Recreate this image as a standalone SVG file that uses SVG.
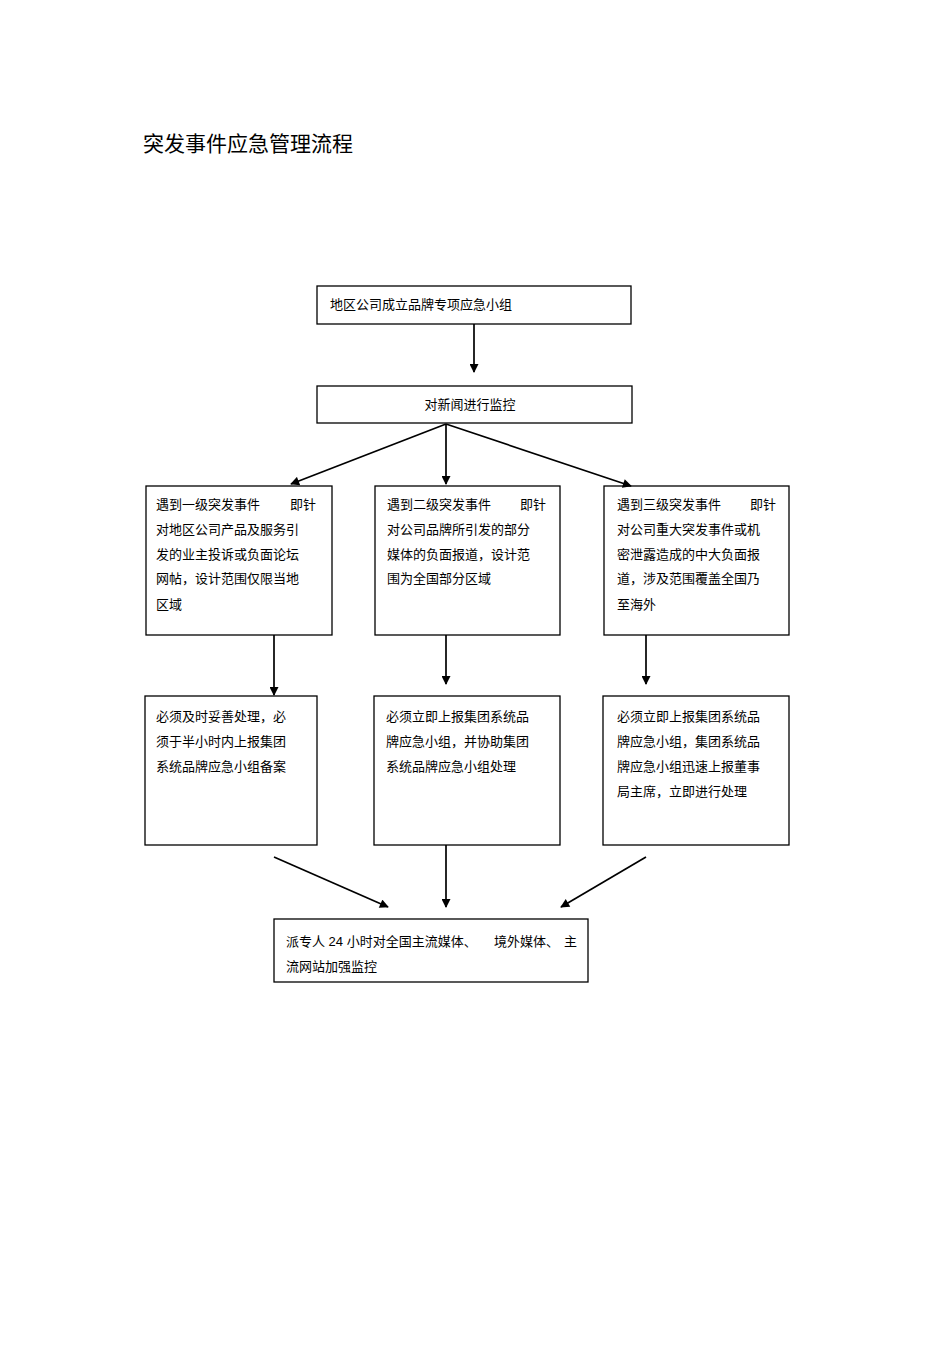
<svg xmlns="http://www.w3.org/2000/svg" width="950" height="1345" viewBox="0 0 950 1345">
<style>
.b{fill:#fff;stroke:#000;stroke-width:1.3}
.t{font-family:"Liberation Sans","Noto Sans CJK SC",sans-serif;font-size:13px;fill:#000}
.c{stroke:#000;stroke-width:1.7;fill:none;marker-end:url(#a)}
</style>
<defs><marker id="a" viewBox="0 0 10 10" refX="9" refY="5" markerWidth="10" markerHeight="9" orient="auto" markerUnits="userSpaceOnUse"><path d="M0,0L10,5L0,10z" fill="#000"/></marker></defs>
<rect width="950" height="1345" fill="#fff"/>
<text x="143" y="151" font-family="Liberation Sans,Noto Sans CJK SC,sans-serif" font-size="21">突发事件应急管理流程</text>
<g id="n1"><rect class="b" x="317" y="286" width="314" height="38"/><text class="t" x="330" y="309">地区公司成立品牌专项应急小组</text></g>
<g id="n2"><rect class="b" x="317" y="386" width="315" height="37"/><text class="t" x="470" y="409" text-anchor="middle">对新闻进行监控</text></g>
<g id="n3"><rect class="b" x="146" y="486" width="186" height="149"/><text class="t"><tspan x="156" y="509">遇到一级突发事件</tspan><tspan x="290" y="509">即针</tspan><tspan x="156" y="534">对地区公司产品及服务引</tspan><tspan x="156" y="559">发的业主投诉或负面论坛</tspan><tspan x="156" y="583">网帖，设计范围仅限当地</tspan><tspan x="156" y="609">区域</tspan></text></g>
<g id="n4"><rect class="b" x="375" y="486" width="185" height="149"/><text class="t"><tspan x="387" y="509">遇到二级突发事件</tspan><tspan x="520" y="509">即针</tspan><tspan x="387" y="534">对公司品牌所引发的部分</tspan><tspan x="387" y="559">媒体的负面报道，设计范</tspan><tspan x="387" y="583">围为全国部分区域</tspan></text></g>
<g id="n5"><rect class="b" x="604" y="486" width="185" height="149"/><text class="t"><tspan x="617" y="509">遇到三级突发事件</tspan><tspan x="750" y="509">即针</tspan><tspan x="617" y="534">对公司重大突发事件或机</tspan><tspan x="617" y="559">密泄露造成的中大负面报</tspan><tspan x="617" y="583">道，涉及范围覆盖全国乃</tspan><tspan x="617" y="609">至海外</tspan></text></g>
<g id="n6"><rect class="b" x="145" y="696" width="172" height="149"/><text class="t"><tspan x="156" y="721">必须及时妥善处理，必</tspan><tspan x="156" y="746">须于半小时内上报集团</tspan><tspan x="156" y="771">系统品牌应急小组备案</tspan></text></g>
<g id="n7"><rect class="b" x="374" y="696" width="186" height="149"/><text class="t"><tspan x="386" y="721">必须立即上报集团系统品</tspan><tspan x="386" y="746">牌应急小组，并协助集团</tspan><tspan x="386" y="771">系统品牌应急小组处理</tspan></text></g>
<g id="n8"><rect class="b" x="603" y="696" width="186" height="149"/><text class="t"><tspan x="617" y="721">必须立即上报集团系统品</tspan><tspan x="617" y="746">牌应急小组，集团系统品</tspan><tspan x="617" y="771">牌应急小组迅速上报董事</tspan><tspan x="617" y="796">局主席，立即进行处理</tspan></text></g>
<g id="n9"><rect class="b" x="274" y="919" width="314" height="63"/><text class="t"><tspan x="286" y="946">派专人 24 小时对全国主流媒体、</tspan><tspan x="494" y="946">境外媒体、</tspan><tspan x="564" y="946">主</tspan><tspan x="286" y="971">流网站加强监控</tspan></text></g>
<g id="connectors">
<line class="c" x1="474" y1="324" x2="474" y2="372"/>
<line class="c" x1="446" y1="424" x2="291" y2="484"/>
<line class="c" x1="446" y1="424" x2="446" y2="484"/>
<line class="c" x1="446" y1="424" x2="631" y2="486"/>
<line class="c" x1="274" y1="635" x2="274" y2="695"/>
<line class="c" x1="446" y1="635" x2="446" y2="684"/>
<line class="c" x1="646" y1="635" x2="646" y2="684"/>
<line class="c" x1="274" y1="857" x2="388" y2="907"/>
<line class="c" x1="446" y1="845" x2="446" y2="907"/>
<line class="c" x1="646" y1="857" x2="561" y2="907"/>
</g>
</svg>
